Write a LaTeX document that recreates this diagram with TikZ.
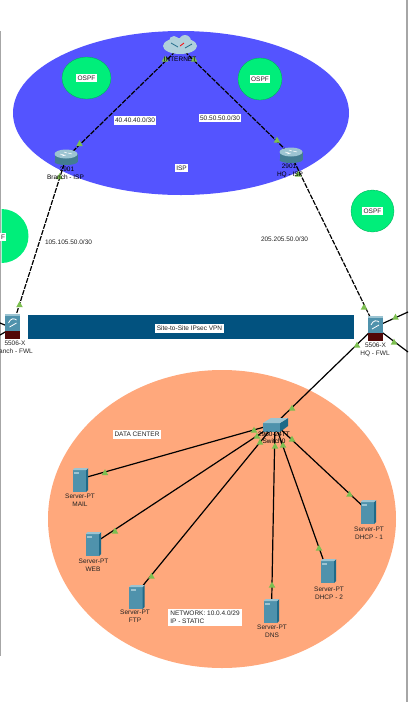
\documentclass[tikz,border=0pt]{standalone}
\usepackage{fontspec}
\setmainfont{Liberation Sans}
\usetikzlibrary{calc,shapes.geometric}
\definecolor{ispblue}{HTML}{5454FF}
\definecolor{ospfgreen}{HTML}{00EE7A}
\definecolor{dcorange}{HTML}{FFA87C}
\definecolor{vpnblue}{HTML}{02527F}
\definecolor{tipgreen}{HTML}{7CBF50}
\definecolor{srvfront}{HTML}{4F92AC}
\definecolor{srvside}{HTML}{1F6A88}
\definecolor{srvtop}{HTML}{9CC4D2}
\definecolor{txtgray}{HTML}{222222}
\definecolor{fwred}{HTML}{520808}
\tikzset{
 x=1pt,y=-1pt,
 lbl/.style={font=\fontsize{6.5}{7.8}\selectfont,text=txtgray,inner sep=0pt,align=center},
 devlbl/.style={lbl,text=black},
 tag/.style={lbl,fill=white,inner xsep=1.5pt,inner ysep=2pt},
 ospf/.style={ellipse,fill=ospfgreen,draw=ospfgreen!70!black,line width=0.3pt,inner sep=0pt},
 wan/.style={black,line width=1.2pt,dash pattern=on 5pt off 1.3pt},
 lan/.style={black,line width=1.2pt},
}
\newcommand{\tipmark}[1]{\fill[tipgreen] ($(#1)+(-3.3,2.7)$) -- ($(#1)+(3.3,2.7)$) -- ($(#1)+(0,-3.3)$) -- cycle;}
\newcommand{\srvicon}[1]{%
 \begin{scope}[shift={(#1)}]
  \fill[srvfront] (-7.5,-10) rectangle (6,12);
  \fill[srvside] (6,-10) -- (8,-12) -- (8,10) -- (6,12) -- cycle;
  \fill[srvtop] (-7.5,-10) -- (-5.5,-12) -- (8,-12) -- (6,-10) -- cycle;
  \fill[srvtop] (-6,-8) rectangle (-1,-6.5);
 \end{scope}}
\newcommand{\rtricon}[1]{%
 \begin{scope}[shift={(#1)}]
  \fill[srvfront!85!black] (-11.5,-3) rectangle (11.5,5);
  \fill[srvfront!85!black] (0,5) ellipse (11.5 and 3);
  \fill[srvtop] (0,-3) ellipse (11.5 and 4.5);
  \draw[white,line width=0.5pt] (-6,-3)--(-2,-2) (2,-4)--(6,-3) (-2,-5)--(1,-4) (-4,-1)--(0,-2);
 \end{scope}}
\newcommand{\fwicon}[1]{%
 \begin{scope}[shift={(#1)}]
  \fill[srvfront] (-7.5,-11) rectangle (7.5,6);
  \fill[srvtop] (-7.5,-11) rectangle (7.5,-9.5);
  \fill[fwred] (-7.5,6) rectangle (7.5,14);
  \draw[white,line width=0.8pt] (-4,-2) .. controls (-2,-7) and (2,-7) .. (4,-5) (-3,2) -- (4,-2);
 \end{scope}}
\begin{document}
\begin{tikzpicture}
\useasboundingbox (0,0) rectangle (408,702);
% frame lines
\draw[black!35,line width=1.3pt] (0.7,31) -- (0.7,656);
\draw[black!35,line width=1.3pt] (407,0) -- (407,702);
% areas
\fill[ispblue] (181,113) ellipse (168 and 82);
\fill[dcorange] (222,519) ellipse (174 and 149);
\node[ospf,minimum width=49pt,minimum height=42pt] (o1) at (86.5,78) {};
\node[tag] at (o1) {OSPF};
\node[ospf,minimum width=44pt,minimum height=42pt] (o2) at (260,79) {};
\node[tag] at (o2) {OSPF};
\node[ospf,minimum width=43pt,minimum height=42pt] (o3) at (372.5,211) {};
\node[tag] at (o3) {OSPF};
\begin{scope}
\clip (1.5,190) rectangle (60,300);
\node[ospf,draw=none,minimum width=54pt,minimum height=54pt] (o4) at (1.5,236) {};
\end{scope}
\node[tag,anchor=east,inner xsep=0.8pt] at (6,237) {F};
% VPN bar
\fill[vpnblue] (27.5,314.5) rectangle (354,338.5);
\node[tag] at (189.5,328.5) {Site-to-Site IPsec VPN};
% connector anchors
\coordinate (inet) at (180,47);
\coordinate (r1) at (66,158);
\coordinate (r2) at (291,155);
\coordinate (fwb) at (12,328);
\coordinate (fwh) at (375,327);
\coordinate (sw) at (275,424);
\coordinate (edgeTR) at (408,312);
\coordinate (edgeBR) at (408,352);
\coordinate (edgeBL) at (0,335);
\coordinate (edgeBL2) at (0,323);
\coordinate (mail) at (80,479);
\coordinate (web) at (93,544);
\coordinate (ftp) at (136,594);
\coordinate (dns) at (271.5,612);
\coordinate (dh2) at (328,573);
\coordinate (dh1) at (368,511);
% WAN links
\draw[wan] (inet) -- (r1);
\draw[wan] (inet) -- (r2);
\draw[wan] (r1) -- (fwb);
\draw[wan] (r2) -- (fwh);
% LAN links
\draw[lan] (fwh) -- (edgeTR);
\draw[lan] (fwh) -- (edgeBR);
\draw[lan] (fwb) -- (edgeBL);
\draw[lan] (fwb) -- (edgeBL2);
\draw[lan] (fwh) -- (sw);
\draw[lan] (sw) -- (mail);
\draw[lan] (sw) -- (web);
\draw[lan] (sw) -- (ftp);
\draw[lan] (sw) -- (dns);
\draw[lan] (sw) -- (dh2);
\draw[lan] (sw) -- (dh1);
% icons
\rtricon{66,157}
\rtricon{291,155}
\begin{scope}[shift={(180,46)}]
 \fill[srvtop!80!white] (0,0) ellipse (17 and 8);
 \fill[srvtop!80!white] (-6,-5) circle (5);
 \fill[srvtop!80!white] (5,-5) circle (6);
 \draw[srvside,line width=0.8pt] (-9,-3) -- (-2,1);
 \draw[red,line width=0.8pt] (0,0) -- (4,-3);
 \draw[srvside,line width=0.8pt] (5,2) -- (12,-2);
\end{scope}
\fwicon{12.5,325}
\fwicon{375,327}
\begin{scope}[shift={(275,425)}]
 \fill[srvfront] (-12,-2) -- (5,-2) -- (5,7) -- (-12,7) -- cycle;
 \fill[srvside] (5,-2) -- (13,-7) -- (13,1) -- (5,7) -- cycle;
 \fill[srvtop] (-12,-2) -- (-4,-7) -- (13,-7) -- (5,-2) -- cycle;
\end{scope}
\srvicon{80,480}
\srvicon{93,544}
\srvicon{136.5,597}
\srvicon{271,611}
\srvicon{328,571}
\srvicon{368,512}
% tips
\tipmark{165,59}\tipmark{194,59}
\tipmark{79.5,143.5}\tipmark{59.5,176.5}
\tipmark{277,140}\tipmark{298,174}
\tipmark{19.5,304.5}\tipmark{364,307}
\tipmark{395.5,317}\tipmark{394,342}\tipmark{357,345}
\tipmark{292,408}\tipmark{254,430}\tipmark{257,436}\tipmark{260,442}
\tipmark{275,446}\tipmark{283,445}\tipmark{292,439}
\tipmark{105,472.5}\tipmark{115,531}\tipmark{151.5,576}
\tipmark{272,585}\tipmark{319,548}\tipmark{349.5,494}
% device labels over the tips
\node[devlbl] at (180,59.5) {INTERNET};
\node[devlbl] at (67,169.5) {2901};
\node[devlbl] at (65.5,177.5) {Branch - ISP};
\node[devlbl] at (289,166.5) {2901};
\node[devlbl] at (290,174.5) {HQ - ISP};
\node[devlbl] at (274,434) {2960-24TT};
\node[devlbl] at (274,441.5) {Switch0};
% labels
\node[tag] at (135,120.5) {40.40.40.0/30};
\node[tag] at (220,118) {50.50.50.0/30};
\node[tag] at (181.5,168) {ISP};
\node[lbl] at (68.5,242.5) {105.105.50.0/30};
\node[lbl] at (284.5,239.5) {205.205.50.0/30};
\node[lbl] at (15,343.5) {5506-X};
\node[lbl,anchor=east] at (33,351.5) {Branch - FWL};
\node[lbl] at (375.5,345.5) {5506-X};
\node[lbl] at (375,353.5) {HQ - FWL};
\node[tag] at (137,434.5) {DATA CENTER};
\node[lbl] at (80,496.5) {Server-PT};
\node[lbl] at (80,504.5) {MAIL};
\node[lbl] at (93.5,561.5) {Server-PT};
\node[lbl] at (93,569.5) {WEB};
\node[lbl] at (135,612.5) {Server-PT};
\node[lbl] at (135,620.5) {FTP};
\node[lbl] at (272,627.5) {Server-PT};
\node[lbl] at (272,635.5) {DNS};
\node[lbl] at (329,589.5) {Server-PT};
\node[lbl] at (329,597.5) {DHCP - 2};
\node[lbl] at (369,529.5) {Server-PT};
\node[lbl] at (369,537.5) {DHCP - 1};
\node[tag,align=left,inner xsep=2pt] at (205,617.5) {NETWORK: 10.0.4.0/29\\IP - STATIC};
\end{tikzpicture}
\end{document}
